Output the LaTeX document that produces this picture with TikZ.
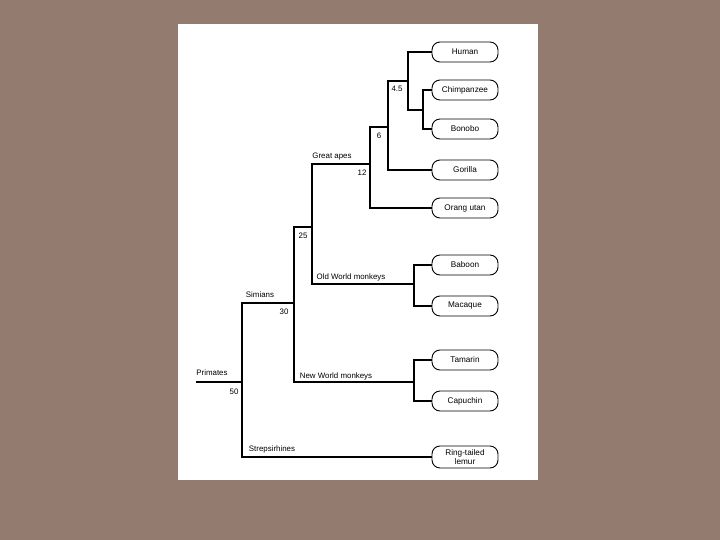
\documentclass[tikz,border=0pt]{standalone}
\usepackage{fontspec}
\setmainfont{Liberation Sans}
\usepackage{tikz}
\usetikzlibrary{positioning}
\definecolor{slidebg}{RGB}{147,123,112}

\begin{document}
\begin{tikzpicture}[
    x=1pt, y=-1pt,
    leaf/.style={draw, line width=0.9pt, rounded corners=8pt, minimum width=66pt, minimum height=20pt, inner sep=1pt, align=center, font=\fontsize{8.2}{7.6}\selectfont},
    branch/.style={line width=1.1pt},
    lbl/.style={inner sep=0pt, font=\fontsize{7.9}{9}\selectfont}
]
\useasboundingbox (0,0) rectangle (720,540);
\fill[slidebg] (0,0) rectangle (720,540);
\fill[white] (178,24) rectangle (538,480);

% leaves
\node[leaf] (human) at (465,52) {Human};
\node[leaf] (chimp) at (465,90) {Chimpanzee};
\node[leaf] (bonobo) at (465,129) {Bonobo};
\node[leaf] (gorilla) at (465,170) {Gorilla};
\node[leaf] (orang) at (465,208) {Orang utan};
\node[leaf] (baboon) at (465,265) {Baboon};
\node[leaf] (macaque) at (465,306) {Macaque};
\node[leaf] (tamarin) at (465,360) {Tamarin};
\node[leaf] (capuchin) at (465,401) {Capuchin};
\node[leaf, minimum height=22pt] (lemur) at (465,457) {Ring-tailed\\lemur};

% branch points
\coordinate (cb) at (423,110);
\coordinate (a45) at (408,81);
\coordinate (a6) at (388,127);
\coordinate (a12) at (370,164);
\coordinate (owm) at (414,284);
\coordinate (a25) at (312,227);
\coordinate (nwm) at (414,382);
\coordinate (a30) at (294,303);
\coordinate (a50) at (242,382);
\coordinate (root) at (196,382);

\draw[branch] (cb) |- (chimp.west);
\draw[branch] (cb) |- (bonobo.west);
\draw[branch] (a45) |- (human.west);
\draw[branch] (a45) |- (cb);
\draw[branch] (a6) |- (a45);
\draw[branch] (a6) |- (gorilla.west);
\draw[branch] (a12) |- (a6);
\draw[branch] (a12) |- (orang.west);
\draw[branch] (owm) |- (baboon.west);
\draw[branch] (owm) |- (macaque.west);
\draw[branch] (a25) |- (a12);
\draw[branch] (a25) |- (owm);
\draw[branch] (nwm) |- (tamarin.west);
\draw[branch] (nwm) |- (capuchin.west);
\draw[branch] (a30) |- (a25);
\draw[branch] (a30) |- (nwm);
\draw[branch] (a50) |- (a30);
\draw[branch] (a50) |- (lemur.west);
\draw[branch] (root) -- (a50);

% group names and ages
\node[lbl] at (397,89) {4.5};
\node[lbl] at (379,136) {6};
\node[lbl] at (362,173) {12};
\node[lbl] at (332,157) {Great apes};
\node[lbl] at (303,236) {25};
\node[lbl] at (351,277) {Old World monkeys};
\node[lbl] at (260,295) {Simians};
\node[lbl] at (284,312) {30};
\node[lbl] at (336,376) {New World monkeys};
\node[lbl] at (212,373) {Primates};
\node[lbl] at (234,392) {50};
\node[lbl] at (272,449) {Strepsirhines};
\end{tikzpicture}
\end{document}
